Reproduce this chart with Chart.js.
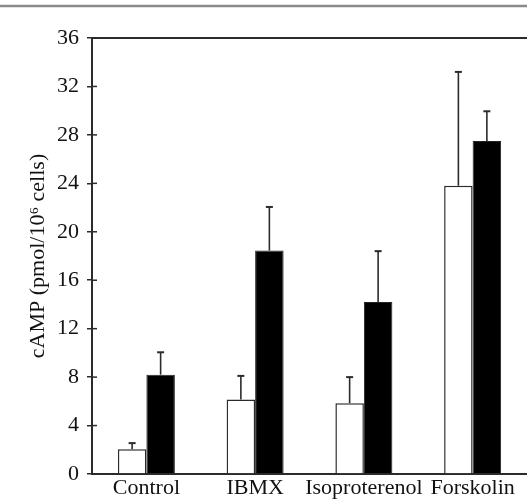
<!DOCTYPE html>
<html>
<head>
<meta charset="utf-8">
<script src="https://cdn.jsdelivr.net/npm/chart.js@4"></script>
<style>
  html, body { margin: 0; padding: 0; background: #ffffff; }
  #wrap { position: relative; width: 527px; height: 501px; }
</style>
</head>
<body>
<div id="wrap"><canvas id="c" width="527" height="501"></canvas></div>
<script>
// ---- data ----
const categories = ['Control', 'IBMX', 'Isoproterenol', 'Forskolin'];
const openValues = [2.05, 6.15, 5.85, 23.8];     // white bars
const openErrors = [0.5, 1.95, 2.15, 9.4];       // upward error
const filledValues = [8.2, 18.45, 14.2, 27.5];   // black bars
const filledErrors = [1.85, 3.6, 4.2, 2.45];
const yTickValues = [0, 4, 8, 12, 16, 20, 24, 28, 32, 36];
const yTitle = 'cAMP (pmol/10\u2076 cells)';

const FONT = "'Liberation Serif', 'Times New Roman', serif";
const INK = '#2b2b2b';

const decorPlugin = {
  id: 'decor',
  beforeDraw(chart) {
    const ctx = chart.ctx;
    ctx.save();
    ctx.fillStyle = '#ffffff';
    ctx.fillRect(0, 0, chart.width, chart.height);
    ctx.strokeStyle = '#8a8a8a';
    ctx.lineWidth = 2.5;
    ctx.beginPath();
    ctx.moveTo(0, 6);
    ctx.lineTo(chart.width, 6);
    ctx.stroke();
    ctx.restore();
  },
  afterDraw(chart) {
    const ctx = chart.ctx;
    const a = chart.chartArea;
    const y = chart.scales.y;
    ctx.save();
    ctx.strokeStyle = INK;
    ctx.lineWidth = 2;
    ctx.beginPath();
    ctx.moveTo(a.left - 1, a.top);
    ctx.lineTo(a.right, a.top);
    ctx.stroke();
    ctx.lineWidth = 1.5;
    yTickValues.forEach(v => {
      const py = y.getPixelForValue(v);
      ctx.beginPath();
      ctx.moveTo(a.left, py);
      ctx.lineTo(a.left + 5, py);
      ctx.stroke();
    });
    ctx.restore();
  },
  afterDatasetsDraw(chart) {
    const ctx = chart.ctx;
    const y = chart.scales.y;
    const errs = [openErrors, filledErrors];
    ctx.save();
    ctx.strokeStyle = INK;
    chart.data.datasets.forEach((ds, di) => {
      const meta = chart.getDatasetMeta(di);
      meta.data.forEach((bar, i) => {
        const v = ds.data[i];
        const top = y.getPixelForValue(v + errs[di][i]);
        const base = y.getPixelForValue(v);
        ctx.lineWidth = 1.6;
        ctx.beginPath();
        ctx.moveTo(bar.x, base);
        ctx.lineTo(bar.x, top);
        ctx.stroke();
        ctx.lineWidth = 2;
        ctx.beginPath();
        ctx.moveTo(bar.x - 3.5, top);
        ctx.lineTo(bar.x + 3.5, top);
        ctx.stroke();
      });
    });
    ctx.restore();
  }
};

new Chart(document.getElementById('c'), {
  type: 'bar',
  data: {
    labels: categories,
    datasets: [
      {
        label: 'Open bars',
        data: openValues,
        backgroundColor: '#ffffff',
        borderColor: INK,
        borderWidth: 1.5,
        borderSkipped: 'start',
        categoryPercentage: 0.524,
        barPercentage: 1.0
      },
      {
        label: 'Filled bars',
        data: filledValues,
        backgroundColor: '#000000',
        borderColor: '#222222',
        borderWidth: 1,
        borderSkipped: 'start',
        categoryPercentage: 0.524,
        barPercentage: 1.0
      }
    ]
  },
  options: {
    responsive: false,
    animation: false,
    layout: { padding: { top: 38, right: 0, bottom: 0, left: 0 } },
    plugins: {
      legend: { display: false },
      tooltip: { enabled: false }
    },
    scales: {
      x: {
        grid: { display: false, drawTicks: false },
        border: { display: true, color: INK, width: 2 },
        ticks: {
          color: '#111111',
          font: { family: FONT, size: 22 },
          padding: 1,
          maxRotation: 0,
          autoSkip: false
        },
        afterFit(scale) { scale.height = 27; }
      },
      y: {
        min: 0,
        max: 36,
        afterBuildTicks(scale) { scale.ticks = yTickValues.map(v => ({ value: v })); },
        grid: { drawOnChartArea: false, drawTicks: true, tickLength: 5, color: INK, lineWidth: 1.5 },
        border: { display: true, color: INK, width: 2 },
        ticks: {
          color: '#111111',
          font: { family: FONT, size: 22 },
          padding: 8
        },
        title: {
          display: true,
          text: yTitle,
          color: '#111111',
          font: { family: FONT, size: 22 },
          padding: { top: 25, bottom: 0 }
        },
        afterFit(scale) { scale.width = 92; }
      }
    }
  },
  plugins: [decorPlugin]
});
</script>
</body>
</html>
